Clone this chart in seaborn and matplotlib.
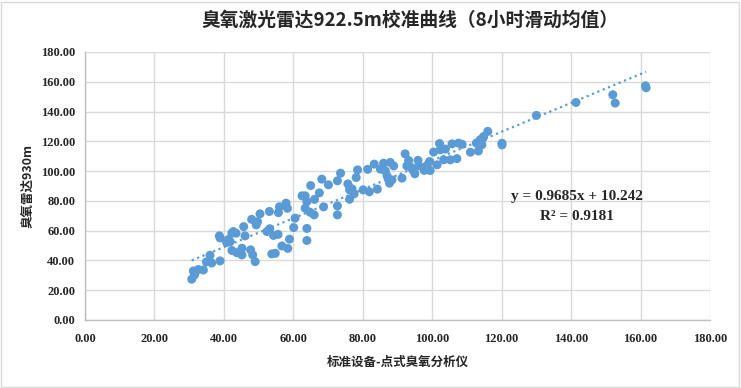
import numpy as np
import pandas as pd
import matplotlib
matplotlib.use("Agg")
import matplotlib.pyplot as plt
from matplotlib.patches import Rectangle
import seaborn as sns

# ---- data ----
ref_x = [30.75, 31.56, 31.2, 32.65, 34.1, 34.96, 36.0, 36.5, 38.9, 38.7, 38.9,
         40.8, 41.3, 41.8, 42.3, 42.7, 43.5, 42.3, 43.7, 44.7, 45.2, 45.2, 45.7,
         46.1, 47.7, 48.0, 48.3, 49.0, 49.7, 49.3, 50.4, 52.4, 53.1, 53.2, 53.8,
         54.8, 54.3, 55.6, 55.7, 56.0, 56.7, 57.9, 58.3, 58.4, 58.9, 60.1, 60.5,
         62.5, 63.4, 63.9, 63.4, 63.9, 63.9, 64.8, 65.0, 66.0, 66.1, 67.5, 68.7,
         68.2, 70.1, 72.7, 72.7, 72.7, 73.6, 75.7, 76.2, 76.2, 76.9, 77.5, 78.1,
         78.5, 80.1, 81.4, 81.9, 83.3, 84.2, 85.1, 86.0, 86.5, 87.0, 87.7, 87.9,
         87.7, 88.4, 88.9, 91.3, 92.2, 93.2, 92.7, 93.7, 94.4, 95.0, 95.9, 96.1,
         97.7, 98.5, 99.2, 99.4, 100.4, 101.4, 102.1, 102.3, 103.3, 103.8, 105.2,
         105.7, 107.1, 107.6, 108.6, 111.0, 112.7, 113.3, 113.8, 114.6, 114.3,
         114.8, 116.0, 120.1, 120.1, 130.0, 141.4, 152.0, 152.7, 161.4, 161.6]
lidar_y = [27.4, 30.3, 32.9, 33.9, 33.6, 39.0, 43.5, 38.3, 39.7, 56.5, 55.1,
           52.0, 54.1, 52.6, 58.3, 59.4, 58.3, 46.7, 45.2, 44.8, 48.2, 43.7, 62.7,
           56.5, 47.1, 67.6, 43.7, 39.2, 66.0, 63.9, 71.3, 59.4, 72.9, 61.3, 44.4,
           44.8, 56.8, 57.5, 72.1, 76.0, 49.7, 78.5, 75.0, 48.1, 54.3, 62.1, 68.4,
           83.4, 83.4, 79.5, 75.1, 61.5, 53.4, 72.4, 90.3, 70.6, 81.0, 85.4, 76.0,
           94.6, 90.8, 70.6, 76.6, 93.5, 98.6, 91.4, 87.4, 81.1, 88.1, 84.7, 95.7,
           100.8, 87.4, 101.2, 86.1, 104.7, 87.9, 101.3, 105.3, 100.2, 96.8, 94.1,
           105.8, 91.9, 94.1, 103.5, 95.3, 111.6, 107.2, 103.5, 102.9, 100.8, 98.2,
           107.2, 103.5, 100.5, 103.9, 106.4, 100.4, 112.8, 104.2, 118.5, 114.3,
           107.6, 114.8, 107.6, 118.3, 108.4, 118.8, 118.0, 112.7, 118.8, 113.5,
           121.0, 122.2, 117.7, 123.2, 126.7, 118.7, 117.6, 137.4, 146.1, 151.3,
           145.7, 157.3, 156.0]
slope = 0.9685
intercept = 10.242
r_squared = 0.9181
x_ticks = [0, 20, 40, 60, 80, 100, 120, 140, 160, 180]
y_ticks = [0, 20, 40, 60, 80, 100, 120, 140, 160, 180]

title = "臭氧激光雷达922.5m校准曲线（8小时滑动均值）"
x_label = "标准设备-点式臭氧分析仪"
y_label = "臭氧雷达930m"

df = pd.DataFrame({"x": ref_x, "y": lidar_y})

sns.set_theme(style="white")
plt.rcParams["font.family"] = ["Noto Sans CJK SC", "DejaVu Sans"]

BLUE = "#5B9BD5"
GRID = "#D9D9D9"
num_font = ["Liberation Serif", "Noto Sans CJK SC"]

fig = plt.figure(figsize=(7.41, 3.88), dpi=100)
ax = fig.add_axes([85 / 741, 68 / 388, 625 / 741, 268 / 388])

sns.scatterplot(data=df, x="x", y="y", ax=ax, color=BLUE, s=42,
                edgecolor="none", linewidth=0, zorder=3)

xs = np.array([df["x"].min(), df["x"].max()])
ax.plot(xs, slope * xs + intercept, color=BLUE, linestyle=(0, (1, 1.6)),
        linewidth=1.6, zorder=2)

ax.set_xlim(0, 180)
ax.set_ylim(0, 180)
ax.set_xticks(x_ticks)
ax.set_yticks(y_ticks)
ax.set_xticklabels([f"{v:.2f}" for v in x_ticks])
ax.set_yticklabels([f"{v:.2f}" for v in y_ticks])
for lab in ax.get_xticklabels() + ax.get_yticklabels():
    lab.set_fontfamily(num_font)
    lab.set_fontweight("bold")
    lab.set_fontsize(9)
ax.grid(True, color=GRID, linewidth=1)
ax.set_axisbelow(True)
for s in ["top", "right"]:
    ax.spines[s].set_visible(False)
for s in ["left", "bottom"]:
    ax.spines[s].set_color("#BFBFBF")
    ax.spines[s].set_linewidth(1)
ax.tick_params(axis="y", length=4, color="#BFBFBF", pad=3)
ax.tick_params(axis="x", length=0, pad=9)

ax.set_xlabel(x_label, fontsize=9, fontweight="bold", labelpad=8)
ax.set_ylabel(y_label, fontsize=9, fontweight="bold", labelpad=5)

fig.text(410 / 741, 1 - 20 / 388, title, ha="center", va="center",
         fontsize=13.5, fontweight="bold")

ax.text(0.787, 0.459, f"y = {slope}x + {intercept}", transform=ax.transAxes,
        ha="center", va="center", fontsize=11, fontweight="bold", family=num_font)
ax.text(0.787, 0.388, f"R² = {r_squared}", transform=ax.transAxes,
        ha="center", va="center", fontsize=11, fontweight="bold", family=num_font)

fig.patches.append(Rectangle((0.002, 0.003), 0.995, 0.993, transform=fig.transFigure,
                             fill=False, edgecolor=GRID, linewidth=1))

fig.savefig("out.png", dpi=100)
